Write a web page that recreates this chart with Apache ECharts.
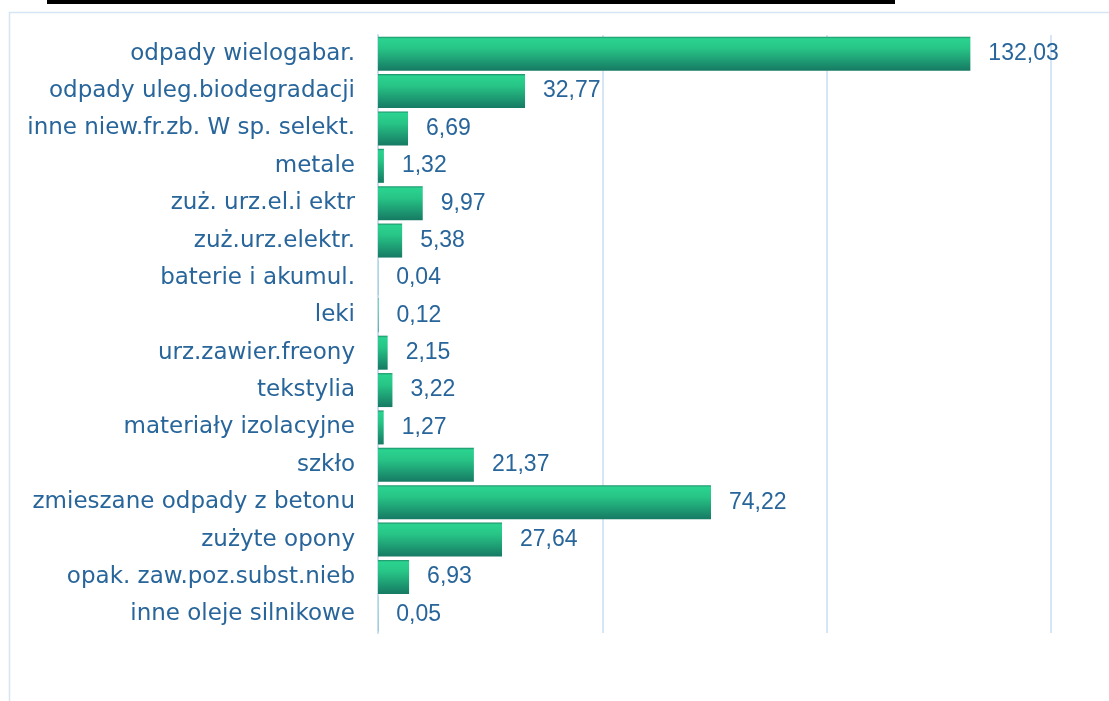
<!DOCTYPE html>
<html>
<head>
<meta charset="utf-8">
<script src="https://cdn.jsdelivr.net/npm/echarts@6/dist/echarts.min.js"></script>
<style>
html,body{margin:0;padding:0;background:#fff;}
#chart{width:1109px;height:701px;}
</style>
</head>
<body>
<div id="chart"></div>
<script>
const categories = [
  "odpady wielogabar.",
  "odpady uleg.biodegradacji",
  "inne niew.fr.zb. W sp. selekt.",
  "metale",
  "zuż. urz.el.i ektr",
  "zuż.urz.elektr.",
  "baterie i akumul.",
  "leki",
  "urz.zawier.freony",
  "tekstylia",
  "materiały izolacyjne",
  "szkło",
  "zmieszane odpady z betonu",
  "zużyte opony",
  "opak. zaw.poz.subst.nieb",
  "inne oleje silnikowe"
];
const values = [132.03, 32.77, 6.69, 1.32, 9.97, 5.38, 0.04, 0.12, 2.15, 3.22, 1.27, 21.37, 74.22, 27.64, 6.93, 0.05];

const chart = echarts.init(document.getElementById('chart'), null, {renderer: 'canvas'});
const TXT = "#28659a";
chart.setOption({
  animation: false,
  backgroundColor: '#ffffff',
  graphic: [
    {type: 'rect', shape: {x: 47, y: 0, width: 848, height: 4}, style: {fill: '#000'}},
    {type: 'rect', shape: {x: 9.5, y: 12.5, width: 1200, height: 800}, style: {fill: 'none', stroke: '#d5e5f3', lineWidth: 1.5}}
  ],
  grid: {left: 378, right: 58, top: 35, bottom: 68, containLabel: false},
  xAxis: {
    type: 'value', min: 0, max: 150, interval: 50,
    axisLabel: {show: false}, axisTick: {show: false}, axisLine: {show: false},
    splitLine: {show: true, lineStyle: {color: '#d6e6f4', width: 2}}
  },
  yAxis: {
    type: 'category', data: categories, inverse: true,
    axisTick: {show: false},
    axisLine: {show: true, lineStyle: {color: '#c9dff0', width: 2}},
    axisLabel: {color: TXT, fontFamily: "DejaVu Sans", fontSize: 23, margin: 23}
  },
  series: [{
    type: 'bar', data: values, barCategoryGap: '9%',
    itemStyle: {
      color: new echarts.graphic.LinearGradient(0, 0, 0, 1, [
        {offset: 0, color: '#1b8f69'},
        {offset: 0.06, color: '#2bd390'},
        {offset: 0.35, color: '#27c486'},
        {offset: 1, color: '#167a63'}
      ])
    },
    label: {
      show: true, position: 'right', distance: 18,
      color: TXT, fontFamily: "Liberation Sans", fontSize: 23,
      formatter: p => p.value.toFixed(2).replace('.', ',')
    }
  }]
});
</script>
</body>
</html>
